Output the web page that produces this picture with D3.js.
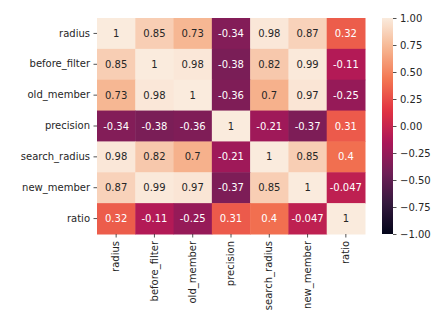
<!DOCTYPE html>
<html>
<head>
<meta charset="utf-8">
<script src="https://cdn.jsdelivr.net/npm/d3@7"></script>
<style>
    body { margin: 0; background: #ffffff; }
    svg text { font-family: "DejaVu Sans", sans-serif; }
</style>
</head>
<body>
<div id="chart"></div>
<script>
//labels of the correlation matrix
var labels = ['radius', 'before_filter', 'old_member', 'precision', 'search_radius', 'new_member', 'ratio'];

//correlation values, one row per label
var rowRadius = [1, 0.85, 0.73, -0.34, 0.98, 0.87, 0.32];
var rowBeforeFilter = [0.85, 1, 0.98, -0.38, 0.82, 0.99, -0.11];
var rowOldMember = [0.73, 0.98, 1, -0.36, 0.7, 0.97, -0.25];
var rowPrecision = [-0.34, -0.38, -0.36, 1, -0.21, -0.37, 0.31];
var rowSearchRadius = [0.98, 0.82, 0.7, -0.21, 1, 0.85, 0.4];
var rowNewMember = [0.87, 0.99, 0.97, -0.37, 0.85, 1, -0.047];
var rowRatio = [0.32, -0.11, -0.25, 0.31, 0.4, -0.047, 1];

//colorbar ticks
var colorbarTicks = [-1, -0.75, -0.5, -0.25, 0, 0.25, 0.5, 0.75, 1];

var matrix = [rowRadius, rowBeforeFilter, rowOldMember, rowPrecision, rowSearchRadius, rowNewMember, rowRatio];

//declare sizes
var width = 444,
    height = 332,
    plot = { left: 97, top: 18, right: 365, bottom: 234 },
    bar = { left: 382, right: 393 },
    textColor = '#262626';

//rocket colormap stops
var rocketStops = ['#03051a', '#35193e', '#701f57', '#ad1759', '#e13342', '#f37651', '#f6b48f', '#faebdd'];
var rocket = d3.scaleLinear()
    .domain(d3.range(rocketStops.length).map(function (i) { return -1 + 2 * i / (rocketStops.length - 1); }))
    .range(rocketStops)
    .interpolate(d3.interpolateRgb);

//pick annotation color from luminance like seaborn does
function textFor(color) {
    var c = d3.rgb(color);
    var lin = [c.r, c.g, c.b].map(function (v) {
        v = v / 255;
        return v <= 0.03928 ? v / 12.92 : Math.pow((v + 0.055) / 1.055, 2.4);
    });
    var lum = 0.2126 * lin[0] + 0.7152 * lin[1] + 0.0722 * lin[2];
    return lum > 0.408 ? textColor : '#ffffff';
}

//format annotation like matplotlib's general format
function fmt(v) {
    return String(+v.toPrecision(2)).replace('-', '-');
}

var svg = d3.select('#chart').append('svg')
    .attr('width', width)
    .attr('height', height);

//create scales
var x = d3.scaleBand().domain(labels).range([plot.left, plot.right]);
var y = d3.scaleBand().domain(labels).range([plot.top, plot.bottom]);

//flatten cells
var cells = [];
matrix.forEach(function (row, i) {
    row.forEach(function (v, j) {
        cells.push({ row: labels[i], col: labels[j], value: v });
    });
});

//draw cells
svg.append('g').selectAll('rect')
    .data(cells)
    .enter()
    .append('rect')
    .attr('x', function (d) { return x(d.col); })
    .attr('y', function (d) { return y(d.row); })
    .attr('width', x.bandwidth() + 0.5)
    .attr('height', y.bandwidth() + 0.5)
    .attr('fill', function (d) { return rocket(d.value); });

//draw annotations
svg.append('g').selectAll('text')
    .data(cells)
    .enter()
    .append('text')
    .attr('x', function (d) { return x(d.col) + x.bandwidth() / 2; })
    .attr('y', function (d) { return y(d.row) + y.bandwidth() / 2; })
    .attr('text-anchor', 'middle')
    .attr('dominant-baseline', 'central')
    .attr('font-size', '10px')
    .attr('fill', function (d) { return textFor(rocket(d.value)); })
    .text(function (d) { return fmt(d.value); });

//left axis
var yAxis = svg.append('g')
    .attr('transform', 'translate(' + plot.left + ',0)')
    .call(d3.axisLeft(y).tickSize(3.5).tickPadding(3.5));
yAxis.select('.domain').remove();
yAxis.selectAll('line').attr('stroke', textColor).attr('stroke-width', 0.8);
yAxis.selectAll('text').attr('font-size', '10px').attr('fill', textColor).attr('font-family', 'DejaVu Sans');

//bottom axis with rotated labels
var xAxis = svg.append('g')
    .attr('transform', 'translate(0,' + plot.bottom + ')')
    .call(d3.axisBottom(x).tickSize(3.5).tickPadding(3.5));
xAxis.select('.domain').remove();
xAxis.selectAll('line').attr('stroke', textColor).attr('stroke-width', 0.8);
xAxis.selectAll('text')
    .attr('font-size', '10px')
    .attr('fill', textColor)
    .attr('font-family', 'DejaVu Sans')
    .attr('text-anchor', 'end')
    .attr('dy', '0.32em')
    .attr('y', 0)
    .attr('transform', 'translate(0,7) rotate(-90)');

//colorbar gradient
var defs = svg.append('defs');
var grad = defs.append('linearGradient')
    .attr('id', 'cbar')
    .attr('x1', 0).attr('y1', 1).attr('x2', 0).attr('y2', 0);
d3.range(0, 1.0001, 0.02).forEach(function (t) {
    grad.append('stop')
        .attr('offset', t)
        .attr('stop-color', rocket(-1 + 2 * t));
});

var cScale = d3.scaleLinear().domain([-1, 1]).range([plot.bottom, plot.top]);

svg.append('rect')
    .attr('x', bar.left)
    .attr('y', plot.top)
    .attr('width', bar.right - bar.left)
    .attr('height', plot.bottom - plot.top)
    .attr('fill', 'url(#cbar)');

var cAxis = svg.append('g')
    .attr('transform', 'translate(' + bar.right + ',0)')
    .call(d3.axisRight(cScale).tickValues(colorbarTicks).tickSize(3.5).tickPadding(3.5)
        .tickFormat(function (d) { return d3.format('.2f')(d).replace('-', '\u2212'); }));
cAxis.select('.domain').remove();
cAxis.selectAll('line').attr('stroke', textColor).attr('stroke-width', 0.8);
cAxis.selectAll('text').attr('font-size', '10px').attr('fill', textColor).attr('font-family', 'DejaVu Sans');
</script>
</body>
</html>
